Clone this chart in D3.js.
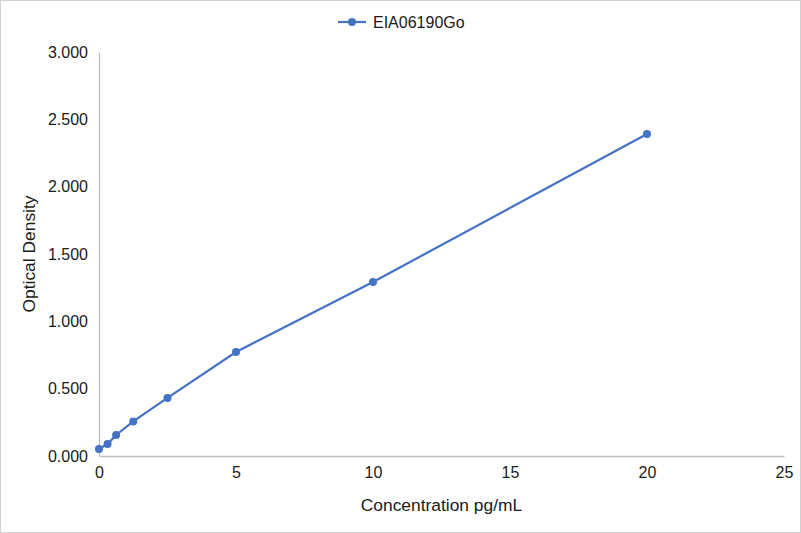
<!DOCTYPE html>
<html>
<head>
<meta charset="utf-8">
<script src="https://cdn.jsdelivr.net/npm/d3@7"></script>
<style>
  body { margin: 0; background: #fff; }
  svg text { font-family: "Liberation Sans", Arial, sans-serif; fill: #1a1a1a; }
</style>
</head>
<body>
<div id="chart"></div>
<script>
// standard curve values
const concentrations = [0, 0.3125, 0.625, 1.25, 2.5, 5, 10, 20];
const densities = [0.052, 0.089, 0.156, 0.257, 0.431, 0.772, 1.292, 2.391];
const xTicks = [0, 5, 10, 15, 20, 25];
const yTicks = [0, 0.5, 1, 1.5, 2, 2.5, 3];
const seriesName = "EIA06190Go";

const width = 801, height = 533;
const margin = {left: 99, right: 17, top: 52, bottom: 77};
const color = "#4472C4";

const svg = d3.select("#chart").append("svg")
  .attr("width", width)
  .attr("height", height);

// outer border
svg.append("rect")
  .attr("x", 0.5).attr("y", 0.5)
  .attr("width", width - 1).attr("height", height - 1)
  .attr("fill", "#fff")
  .attr("stroke", "#d0d0d0");

const x = d3.scaleLinear().domain([0, 25]).range([margin.left, width - margin.right]);
const y = d3.scaleLinear().domain([0, 3]).range([height - margin.bottom, margin.top]);

// x axis
const xAxis = svg.append("g")
  .attr("transform", `translate(0,${y(0)})`)
  .call(d3.axisBottom(x).tickValues(xTicks).tickSize(0).tickPadding(11).tickFormat(d3.format("d")));
xAxis.select(".domain").attr("stroke", "#bfbfbf").attr("stroke-width", 1.3);
xAxis.selectAll("text").attr("font-size", 16);

// y axis
const yAxis = svg.append("g")
  .attr("transform", `translate(${x(0)},0)`)
  .call(d3.axisLeft(y).tickValues(yTicks).tickSize(0).tickPadding(11).tickFormat(d3.format(".3f")));
yAxis.select(".domain").attr("stroke", "#bfbfbf").attr("stroke-width", 1.3);
yAxis.selectAll("text").attr("font-size", 16);

// axis titles
svg.append("text")
  .attr("x", (x(0) + x(25)) / 2)
  .attr("y", 511)
  .attr("text-anchor", "middle")
  .attr("font-size", 17.4)
  .text("Concentration pg/mL");

svg.append("text")
  .attr("transform", `translate(35,${(y(0) + y(3)) / 2}) rotate(-90)`)
  .attr("text-anchor", "middle")
  .attr("font-size", 17.4)
  .text("Optical Density");

// series
const points = concentrations.map((c, i) => ({c: c, od: densities[i]}));

const line = d3.line()
  .x(d => x(d.c))
  .y(d => y(d.od));

svg.append("path")
  .datum(points)
  .attr("d", line)
  .attr("fill", "none")
  .attr("stroke", color)
  .attr("stroke-width", 2.2);

svg.selectAll("circle.pt")
  .data(points).enter()
  .append("circle")
  .classed("pt", true)
  .attr("cx", d => x(d.c))
  .attr("cy", d => y(d.od))
  .attr("r", 4)
  .attr("fill", color);

// legend
const legend = svg.append("g").attr("transform", "translate(338,22)");
legend.append("line")
  .attr("x1", 0).attr("x2", 28)
  .attr("stroke", color).attr("stroke-width", 2.2);
legend.append("circle")
  .attr("cx", 14).attr("r", 4).attr("fill", color);
legend.append("text")
  .attr("x", 35).attr("y", 6)
  .attr("font-size", 16)
  .text(seriesName);
</script>
</body>
</html>
